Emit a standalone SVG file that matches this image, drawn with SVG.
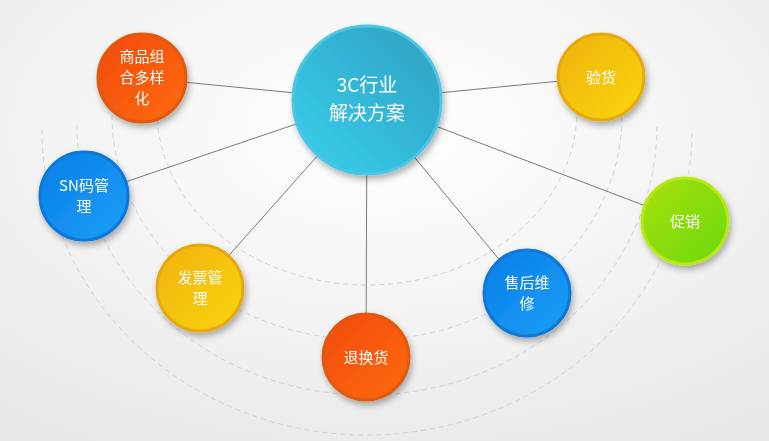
<svg xmlns="http://www.w3.org/2000/svg" width="769" height="441" viewBox="0 0 769 441">
<defs>
<radialGradient id="bg" cx="0.5" cy="0.3" r="0.8"><stop offset="0" stop-color="#ffffff"/><stop offset="1" stop-color="#e8e8e8"/></radialGradient>
<linearGradient id="gC" x1="0" y1="1" x2="1" y2="0"><stop offset="0" stop-color="#3ad0ee"/><stop offset="1" stop-color="#2e9fc0"/></linearGradient>
<linearGradient id="gO" x1="0" y1="0" x2="1" y2="1"><stop offset="0" stop-color="#f04a0a"/><stop offset="1" stop-color="#ff6a10"/></linearGradient>
<linearGradient id="gY" x1="0" y1="0" x2="1" y2="1"><stop offset="0" stop-color="#f2b10a"/><stop offset="1" stop-color="#f8d60a"/></linearGradient>
<linearGradient id="gB" x1="0" y1="0" x2="1" y2="1"><stop offset="0" stop-color="#0a7de8"/><stop offset="1" stop-color="#1aa0f8"/></linearGradient>
<linearGradient id="gG" x1="0" y1="0" x2="1" y2="1"><stop offset="0" stop-color="#a8e00a"/><stop offset="1" stop-color="#6cd80a"/></linearGradient>
<filter id="sh" x="-30%" y="-30%" width="160%" height="160%"><feDropShadow dx="2" dy="4" stdDeviation="3" flood-color="#000" flood-opacity="0.3"/></filter>
<style>
.arc{fill:none;stroke:#cfcfcf;stroke-width:1;stroke-dasharray:5 4}
.ln{stroke:#7a7a7a;stroke-width:1}
.t{font-family:"Noto Sans CJK SC","Liberation Sans",sans-serif;fill:#fff;font-size:15px;text-anchor:middle}
.nd{filter:url(#sh)}
</style>
</defs>
<rect width="769" height="441" fill="url(#bg)"/>
<g id="arcs">
<path class="arc" d="M157 110 A210 175 0 0 0 577 110"/>
<path class="arc" d="M112 115 A255 225 0 0 0 622 115"/>
<path class="arc" d="M77 125 A290 270 0 0 0 657 125"/>
<path class="arc" d="M42 130 A325 305 0 0 0 692 130"/>
</g>
<g id="connectors">
<line class="ln" x1="367" y1="100" x2="142" y2="78"/>
<line class="ln" x1="367" y1="100" x2="601" y2="77"/>
<line class="ln" x1="367" y1="100" x2="84" y2="196"/>
<line class="ln" x1="367" y1="100" x2="685" y2="221"/>
<line class="ln" x1="367" y1="100" x2="200" y2="288"/>
<line class="ln" x1="367" y1="100" x2="527" y2="293"/>
<line class="ln" x1="367" y1="100" x2="366" y2="357"/>
</g>
<g id="center" class="nd"><circle cx="367" cy="100" r="74" fill="url(#gC)" stroke="#4cc6e4" stroke-width="3"/>
<text class="t" style="font-size:19px" x="367" y="92">3C行业</text><text class="t" style="font-size:19px" x="367" y="120">解决方案</text></g>
<g id="n1" class="nd"><circle cx="142" cy="78" r="44" fill="url(#gO)" stroke="#e05a10" stroke-width="3"/>
<text class="t" x="142" y="62">商品组</text><text class="t" x="142" y="83">合多样</text><text class="t" x="142" y="104">化</text></g>
<g id="n2" class="nd"><circle cx="601" cy="77" r="43" fill="url(#gY)" stroke="#e8a808" stroke-width="3"/>
<text class="t" x="601" y="83">验货</text></g>
<g id="n3" class="nd"><circle cx="84" cy="196" r="44" fill="url(#gB)" stroke="#0a78d8" stroke-width="3"/>
<text class="t" x="84" y="191">SN码管</text><text class="t" x="84" y="212">理</text></g>
<g id="n4" class="nd"><circle cx="685" cy="221" r="43" fill="url(#gG)" stroke="#b8e810" stroke-width="3"/>
<text class="t" x="685" y="227">促销</text></g>
<g id="n5" class="nd"><circle cx="200" cy="288" r="43" fill="url(#gY)" stroke="#e8a808" stroke-width="3"/>
<text class="t" x="200" y="283">发票管</text><text class="t" x="200" y="304">理</text></g>
<g id="n6" class="nd"><circle cx="527" cy="293" r="43" fill="url(#gB)" stroke="#0a78d8" stroke-width="3"/>
<text class="t" x="527" y="288">售后维</text><text class="t" x="527" y="309">修</text></g>
<g id="n7" class="nd"><circle cx="366" cy="357" r="43" fill="url(#gO)" stroke="#e05a10" stroke-width="3"/>
<text class="t" x="366" y="363">退换货</text></g>
</svg>
